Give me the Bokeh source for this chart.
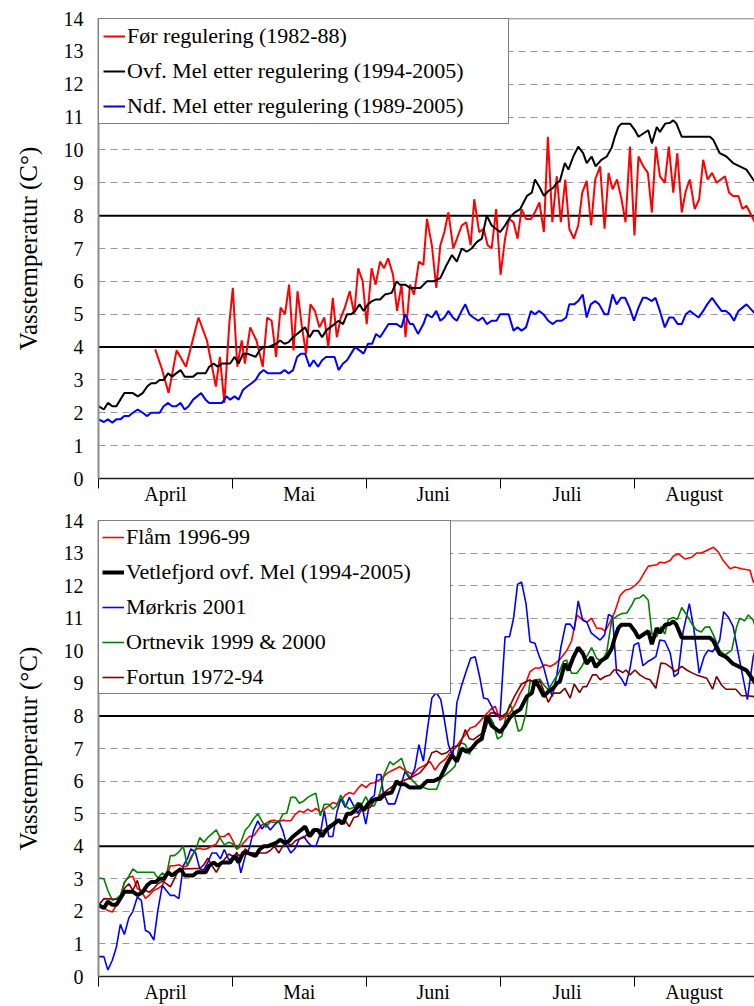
from bokeh.plotting import figure
from bokeh.models import Range1d, FixedTicker, Span, Legend, LegendItem
from bokeh.layouts import column
from bokeh.embed import file_html
from bokeh.resources import INLINE

FONT = "Liberation Serif"

# ---------- axis categories ----------
month_labels = ["April", "Mai", "Juni", "Juli", "August"]
month_starts = [0, 30, 60, 90, 120]
x_end = 147
month_centers = [15, 45, 75, 105, 133.5]
y_ticks = list(range(0, 15))

# ---------- data (day after 1 April, temperature) ----------
ovf_mel = [(0,2.2),(1.2,2.1),(2.1,2.3),(3.1,2.2),(4,2.2),(4.9,2.4),(5.8,2.6),(7.7,2.6),(8.8,2.5),(9.9,2.6),
           (10.9,2.8),(11.8,2.9),(12.8,2.9),(13.7,3.0),(14.6,3.0),(15.6,3.2),(16.5,3.1),(17.4,3.2),(18.4,3.3),
           (19.3,3.1),(21.2,3.1),(22.1,3.2),(24,3.2),(24.8,3.4),(25.8,3.5),(26.7,3.4),(27.7,3.5),(29.5,3.5),
           (30.5,3.7),(31.4,3.5),(32.4,3.8),(33.3,3.8),(34.3,3.75),(35.2,3.7),(36.1,3.9),(37,4.0),(38,4.0),
           (39.8,4.1),(40.7,4.2),(41.7,4.1),(42.6,4.15),(43.6,4.3),(44.5,4.4),(45.4,4.5),(46.3,4.6),(47.3,4.3),
           (48.2,4.5),(49.2,4.5),(50.1,4.3),(51,4.5),(51.9,4.6),(52.9,4.7),(53.8,4.8),(54.8,4.7),(55.7,5.0),
           (56.6,5.0),(57.5,5.1),(58.5,5.3),(59.4,5.1),(60.4,5.3),(61.3,5.4),(62.2,5.45),(63.1,5.45),(64.2,5.6),
           (65.7,5.65),(66.8,6.0),(67.5,5.9),(68.7,5.9),(69.8,5.8),(72.1,5.8),(73.6,6.0),(75.1,6.0),(76.6,6.1),
           (77.3,6.3),(78,6.5),(79.2,6.8),(80.3,6.6),(81.4,7.0),(82.5,6.9),(83.6,7.0),(84.8,7.2),(85.9,7.3),
           (87,8.0),(88.1,7.7),(90,7.5),(91.1,7.7),(92.2,7.95),(93.3,8.1),(94.5,8.2),(96,8.6),(97.1,8.7),
           (97.8,9.1),(98.9,8.85),(99.8,8.6),(100.8,8.75),(101.9,8.85),(102.7,9.0),(103.4,9.06),(104.5,9.6),
           (105.3,9.4),(106.4,9.8),(107.5,10.1),(108.6,9.9),(109.4,9.6),(110.5,9.8),(111.4,9.5),(112.7,9.7),
           (113.9,9.8),(115,10.07),(115.7,10.4),(116.5,10.7),(117.2,10.8),(119.1,10.8),(120.2,10.6),(121,10.4),
           (122.1,10.5),(123.2,10.6),(124,10.2),(125.1,10.7),(125.8,10.55),(127,10.8),(128.1,10.83),(128.8,10.9),
           (129.5,10.8),(130.7,10.4),(137,10.4),(137.8,10.3),(139.2,9.9),(140.7,9.8),(142.2,9.6),(143.7,9.5),
           (145.2,9.4),(146.7,9.1),(147.5,8.95)]

ndf_mel = [(0,1.8),(1.2,1.72),(2.1,1.8),(3.1,1.7),(4,1.8),(4.9,1.8),(5.8,1.9),(6.8,1.9),(7.7,2.0),(8.8,2.1),
           (9.9,2.0),(10.9,1.9),(11.8,2.0),(13.7,2.0),(14.6,2.2),(15.6,2.3),(16.5,2.2),(17.4,2.2),(18.4,2.3),
           (19.3,2.1),(20.2,2.2),(21.2,2.4),(22.1,2.5),(23,2.6),(24,2.4),(24.8,2.3),(27.7,2.3),(28.7,2.5),
           (29.5,2.4),(30.5,2.5),(31.4,2.4),(32.4,2.7),(33.3,2.8),(34.3,2.9),(35.2,3.0),(36.1,3.2),(37,3.3),
           (38,3.2),(40.7,3.2),(41.7,3.3),(42.6,3.2),(43.6,3.3),(44.5,3.7),(45.4,3.8),(46.3,3.8),(47.3,3.4),
           (48.2,3.6),(49.2,3.4),(50.1,3.6),(51,3.7),(51.9,3.7),(52.9,3.7),(53.8,3.3),(54.8,3.5),(55.7,3.6),
           (56.6,3.8),(57.5,4.0),(58.5,3.9),(59.4,3.8),(60.4,4.1),(61.3,4.1),(62.2,4.4),(63.1,4.3),(65,4.7),
           (66.8,4.7),(67.9,4.6),(68.7,5.0),(69.8,4.7),(70.5,4.7),(71.6,4.4),(72.8,4.7),(73.6,5.0),(74.7,4.9),
           (75.7,5.1),(76.6,4.8),(77.5,4.9),(78.4,5.1),(79.4,4.9),(80.3,4.8),(81.3,5.08),(82.2,5.3),(83.1,5.0),
           (84,4.9),(85.1,4.8),(86.1,4.9),(87,4.7),(88.1,4.8),(89.2,4.8),(90,5.0),(91.9,5.0),(93,4.5),(93.9,4.6),
           (94.8,4.5),(95.8,4.6),(96.9,5.1),(97.8,5.0),(98.7,5.1),(99.7,5.0),(100.8,4.8),(101.8,4.7),(102.7,4.8),
           (103.8,4.8),(104.8,4.9),(105.5,5.3),(106.6,5.3),(107.5,5.4),(108.5,5.6),(109.4,4.9),(110.3,5.3),
           (111.3,5.4),(112.2,5.3),(113.4,5.0),(114.2,5.0),(115.2,5.6),(116.1,5.3),(117.1,5.5),(118,5.5),
           (119,5.2),(120,4.8),(121,5.2),(122,5.5),(122.8,5.5),(124,5.4),(124.8,5.5),(125.8,5.1),(126.9,4.6),
           (127.9,4.9),(128.8,4.9),(129.8,4.7),(130.7,4.7),(131.6,5.0),(132.5,5.1),(133.5,5.0),(134.5,4.9),
           (135.5,5.1),(136.4,5.3),(137.5,5.5),(138.5,5.3),(139.6,5.1),(140.6,5.1),(141.5,5.0),(142.4,4.8),
           (143.4,5.1),(144.3,5.2),(145.2,5.3),(146.7,5.08),(147.5,5.0)]

for_reg = [(12.7,3.93),(14.2,3.34),(15.7,2.6),(17.5,3.9),(19.6,3.4),(22.4,4.9),(24.3,4.2),(26.3,2.8),(27.2,3.7),
           (28.2,2.3),(29.3,4.7),(30.1,5.8),(31.1,3.4),(32.1,4.2),(32.8,3.5),(34,4.6),(35.4,4.2),(36.8,3.4),
           (37.8,4.9),(38.8,4.8),(39.8,3.7),(40.8,5.2),(41.8,5.0),(42.7,5.9),(43.7,3.9),(44.6,5.7),(45.5,4.7),
           (46.5,3.8),(47.5,5.3),(48.5,5.1),(49.5,4.6),(50.6,4.9),(51.5,4.0),(52.5,5.5),(53.4,4.3),(54.3,4.9),
           (55.2,5.2),(56.3,5.7),(57.3,5.0),(58.2,6.4),(59.2,6.0),(60.1,4.7),(61.2,6.4),(62.1,5.9),(63.1,6.6),
           (64,6.4),(64.9,6.7),(66,6.2),(66.9,5.1),(67.9,5.9),(68.8,4.3),(69.8,5.9),(70.7,5.6),(71.8,6.6),
           (72.8,6.5),(73.6,7.9),(74.7,7.1),(75.7,5.8),(76.6,7.1),(77.5,7.5),(78.4,8.1),(79.5,7.0),(81.4,7.7),
           (82.4,7.8),(83.4,7.1),(84.2,8.5),(85.3,7.5),(86.3,7.6),(87.2,7.1),(88.1,7.0),(89.1,8.2),(90.1,6.2),
           (91.1,7.3),(92,7.9),(93,7.8),(93.9,7.3),(94.8,8.2),(95.8,7.9),(96.9,7.9),(97.8,8.1),(98.8,8.4),
           (99.8,7.5),(100.7,10.4),(101.7,7.8),(102.7,9.2),(103.6,7.8),(104.6,9.1),(105.5,7.6),(106.5,7.3),
           (107.5,7.7),(108.4,8.7),(109.4,9.06),(110.4,7.7),(111.3,9.1),(112.4,9.5),(113.4,7.6),(114.3,9.3),
           (115.2,8.8),(116.2,9.1),(117.2,8.5),(118.1,7.8),(119.1,10.1),(120.1,7.4),(121,9.8),(122.1,9.5),
           (123.1,9.3),(124,8.1),(124.9,10.1),(125.8,9.2),(126.9,9.0),(127.8,10.1),(128.8,8.7),(129.7,9.9),
           (130.7,8.1),(131.6,8.75),(132.5,9.1),(133.6,8.2),(134.6,8.5),(135.5,9.7),(136.5,9.1),(137.5,9.3),
           (138.5,9.0),(140.4,9.2),(141.3,8.7),(142.2,8.6),(143.4,8.6),(144.3,8.2),(145.2,8.3),(146.7,7.9),(147.5,7.7)]

flam = [(0,2.19),(1.2,2.1),(2.1,2.03),(3.1,1.98),(4,2.2),(4.9,2.4),(5.8,2.9),(6.8,3.05),(7.7,3.08),(8.7,2.7),
        (9.6,2.64),(10.5,2.4),(11.4,2.5),(12.4,2.65),(13.3,2.7),(14.3,2.8),(15.2,3.05),(16.1,3.4),(17,3.4),
        (18,3.43),(19,3.36),(19.9,3.4),(20.7,3.6),(21.7,3.9),(22.7,3.94),(23.6,3.9),(24.5,3.94),(25.4,4.0),
        (26.4,4.07),(27.3,4.3),(28.2,4.3),(29.2,4.4),(30.1,4.17),(31,3.9),(31.9,4.0),(32.9,4.17),(33.8,4.3),
        (34.8,4.32),(35.7,4.5),(36.6,4.65),(37.5,4.7),(38.5,4.78),(39.4,4.8),(40.4,4.75),(41.3,4.8),(42.2,4.78),
        (43.1,4.78),(44.1,4.98),(45,5.08),(46,5.04),(46.9,5.14),(47.8,5.06),(48.7,5.16),(49.7,5.04),(50.6,5.14),
        (51.6,5.24),(52.5,5.34),(53.4,5.3),(54.3,5.4),(55.3,5.57),(56.2,5.65),(57.2,5.6),(58.1,5.77),(59,5.9),
        (59.9,5.8),(60.9,5.93),(61.8,5.95),(63.1,6.05),(64.9,6.26),(66,6.34),(67.5,6.44),(69,6.3),(70.5,6.2),
        (71.6,6.38),(72.8,6.46),(74.3,6.6),(75.4,6.34),(76.6,6.56),(77.7,6.67),(78.8,6.87),(79.9,7.0),(81,7.22),
        (82.2,7.43),(83.3,7.63),(84.4,7.68),(85.5,7.84),(86.6,8.01),(87.8,8.19),(88.9,8.3),(90,7.87),(91.1,7.99),
        (92.2,8.09),(93.3,8.34),(94.5,8.7),(95.6,8.96),(96.7,9.36),(97.8,9.47),(98.9,9.47),(100.1,9.57),
        (101.2,9.52),(102.3,9.6),(103.4,9.74),(104.9,10.0),(106,10.3),(107.2,11.1),(108.3,10.97),(109.4,10.87),
        (110.5,11.0),(111.6,10.7),(112.8,10.68),(113.5,10.6),(114.6,10.87),(115.7,11.2),(116.9,11.7),(118,11.86),
        (119.1,11.9),(120.2,12.0),(121.3,12.16),(122.3,12.4),(123.2,12.6),(125.1,12.64),(125.8,12.72),(126.9,12.7),
        (128.1,12.77),(128.8,12.9),(129.9,12.98),(131.4,12.82),(132.9,12.87),(134,13.0),(135.1,13.0),(136.3,13.08),
        (137.8,13.18),(138.9,13.03),(140,12.77),(141.5,12.52),(142.6,12.57),(144.1,12.52),(146,12.47),(146.7,12.13),
        (147.5,12.0)]

morkris = [(0,0.61),(1.2,0.61),(2.1,0.2),(3.1,0.5),(4,0.9),(4.9,1.6),(5.8,1.29),(6.8,1.8),(7.7,2.0),(8.7,2.44),
           (9.6,2.34),(10.5,1.42),(11.4,1.35),(12.4,1.12),(13.3,2.03),(14.3,2.8),(15.2,2.64),(16.1,2.49),(17,2.49),
           (18,2.39),(19,3.4),(19.9,3.61),(20.7,3.92),(21.7,3.82),(22.7,3.3),(23.6,3.28),(24.5,3.5),(25.4,3.79),
           (26.4,3.79),(27.3,3.61),(28.2,3.9),(29.2,3.59),(30.1,3.59),(31,3.82),(31.9,3.18),(32.9,3.71),(33.8,3.94),
           (34.8,4.5),(35.7,4.78),(36.6,4.53),(37.5,4.68),(38.5,4.5),(39.4,4.65),(40.4,4.78),(41.3,4.48),(42.2,4.02),
           (43.1,3.79),(44.1,3.94),(45,4.22),(46,4.3),(46.9,4.12),(47.8,4.0),(48.7,4.0),(49.7,4.38),(50.6,5.09),
           (51.6,4.3),(52.5,4.3),(53.4,5.04),(54.3,5.46),(55.3,5.19),(56.2,5.5),(57.2,5.24),(58.1,5.01),(59,5.24),
           (59.9,4.68),(60.9,5.45),(61.8,5.55),(62.4,6.2),(63.3,6.2),(63.8,5.65),(64.9,5.3),(66.4,5.3),(67.5,5.75),
           (68.7,6.3),(69.8,6.05),(70.9,6.4),(71.8,7.12),(72.8,6.61),(73.6,7.48),(74.7,8.55),(75.7,8.72),(76.7,8.5),
           (77.5,7.89),(78.4,7.12),(79.4,6.77),(80.3,8.4),(81.4,8.95),(82.5,9.41),(83.4,9.77),(84.4,9.82),(85.4,9.21),
           (86.3,8.55),(87.2,8.52),(88.1,8.29),(89.1,7.99),(90,8.04),(91.1,10.43),(92.1,10.43),(93,10.99),(93.9,12.04),
           (94.8,12.11),(95.8,11.45),(96.7,10.28),(97.8,10.23),(98.8,9.82),(99.7,9.52),(100.8,8.95),(101.7,8.6),
           (102.7,9.26),(103.6,10.1),(104.7,10.82),(105.7,10.82),(106.6,10.63),(107.5,11.53),(108.5,10.94),
           (109.4,10.89),(110.4,10.55),(111.5,10.43),(112.4,10.33),(113.4,10.48),(114.3,11.12),(115.2,11.04),
           (116.1,9.33),(117.1,9.16),(118.1,8.92),(119.1,9.46),(120,10.18),(121,10.25),(122,9.54),(123.1,9.67),
           (124,9.74),(124.9,9.82),(125.8,10.33),(126.9,10.3),(128.1,9.94),(129,9.21),(129.9,9.31),(131,10.58),
           (132.4,11.45),(133.4,10.68),(134.6,9.31),(135.7,9.82),(136.6,10.02),(137.6,9.97),(138.5,10.15),
           (139.2,10.33),(140.1,11.2),(141.1,11.04),(142.2,10.75),(143.1,10.1),(144.3,9.26),(145.4,8.5),(146.7,9.8),
           (147.5,10.2)]

ortnevik = [(0,3.02),(1.2,3.0),(2.1,2.64),(3.1,2.34),(4,2.39),(4.9,2.49),(5.8,2.88),(6.8,3.08),(7.7,3.3),(8.7,3.2),
            (12.4,3.2),(13.3,3.02),(14.3,3.18),(15.2,3.08),(16.1,3.71),(17,3.71),(18,3.82),(19,4.0),(19.9,3.4),
            (20.7,3.66),(21.7,3.87),(22.7,4.27),(23.6,4.12),(24.5,4.27),(25.4,4.38),(26.4,4.5),(27.3,4.24),(28.2,4.04),
            (29.2,4.12),(30.1,4.07),(31,3.92),(31.9,4.12),(32.9,4.5),(33.8,4.63),(34.8,4.85),(35.7,4.99),(36.6,4.78),
            (37.5,4.58),(38.5,4.75),(39.4,4.73),(40.4,4.73),(41.3,4.99),(42.2,5.01),(43.1,5.5),(44.1,5.5),(45,5.32),
            (46,5.39),(46.9,5.5),(47.8,5.57),(48.7,5.63),(49.7,4.93),(50.6,5.29),(51.6,5.29),(52.5,5.14),(53.4,5.24),
            (54.3,5.57),(55.3,5.26),(56.2,5.14),(57.2,5.19),(58.1,5.34),(59,5.29),(59.9,5.52),(60.9,5.24),(61.8,5.24),
            (63.1,5.65),(64,6.2),(65.3,6.6),(66,6.5),(67.9,6.7),(69,6.26),(70.5,6.0),(71.6,5.85),(72.8,5.8),
            (73.9,5.75),(75.8,5.75),(76.7,6.1),(77.7,6.18),(78.8,6.31),(79.9,6.46),(81,7.19),(82.2,7.12),(83.1,6.82),
            (84,7.07),(85.1,7.27),(86.3,7.43),(87.4,8.04),(88.5,7.78),(89.4,7.29),(90.4,7.38),(91.3,7.99),(92.2,8.37),
            (93.1,8.07),(94.1,7.53),(94.8,7.58),(95.8,8.09),(96.7,9.06),(97.8,9.09),(98.9,9.13),(99.8,8.95),
            (100.8,8.8),(101.9,9.06),(103.1,9.31),(104.2,9.67),(104.9,9.72),(106,9.31),(107.2,9.31),(108.3,9.52),
            (109.4,9.82),(110.5,10.1),(111.6,9.77),(112.8,9.67),(113.9,9.97),(115,10.94),(116.1,11.06),(117.2,11.14),
            (118.4,11.16),(119.5,11.4),(120.2,11.6),(121.3,11.63),(122.1,11.72),(123.2,11.55),(124,10.53),
            (125.1,10.43),(126,10.74),(126.9,10.51),(127.7,10.96),(128.8,11.02),(129.7,10.96),(130.7,11.33),
            (131.8,11.1),(132.9,10.84),(134,10.64),(135.1,10.58),(135.9,10.72),(136.9,10.74),(137.8,10.48),
            (139.2,10.02),(140.4,9.87),(141.9,10.02),(143,10.74),(143.7,11.0),(144.8,10.92),(145.6,11.1),
            (146.7,10.94),(147.5,10.6)]

fortun = [(0,2.19),(1.2,2.39),(4,2.37),(4.9,2.39),(5.8,2.7),(6.8,2.85),(7.7,2.64),(8.7,2.95),(9.6,2.51),
          (10.5,2.64),(11.4,2.59),(12.4,2.71),(13.3,2.85),(14.3,2.92),(15.2,2.85),(16.1,2.75),(17,3.0),(18,3.28),
          (19,3.3),(22.7,3.32),(23.6,3.43),(24.5,3.63),(25.4,3.41),(26.4,3.2),(27.3,3.41),(28.2,3.59),(29.2,3.76),
          (30.1,3.69),(31,3.76),(31.9,3.71),(32.9,3.92),(33.8,3.79),(37.5,3.79),(38.5,3.87),(39.4,4.0),(40.4,3.79),
          (41.3,4.0),(42.2,4.12),(43.1,4.02),(44.1,4.17),(45,4.22),(46,4.27),(46.9,4.38),(47.8,4.32),(48.7,4.48),
          (50.6,4.48),(51.6,4.63),(52.5,4.7),(53.4,4.8),(54.3,4.68),(55.3,4.78),(56.2,4.6),(57.2,4.88),(58.1,4.91),
          (59,5.14),(59.9,5.14),(60.9,5.19),(61.8,5.39),(63.1,5.55),(64.5,5.7),(66,5.85),(68,6.0),(70,6.1),
          (72.1,6.26),(73.6,6.51),(74.7,6.87),(75.8,6.92),(76.9,6.82),(78,6.87),(79.5,7.05),(81,7.1),(82.2,7.58),
          (83.1,7.3),(84,7.27),(85.3,7.4),(86.6,7.53),(87.8,8.09),(88.9,8.1),(90,7.95),(91.5,8.1),(93.2,8.6),
          (94.8,8.98),(96.7,9.11),(97.8,8.98),(98.9,9.08),(100.8,8.42),(101.9,8.7),(103.4,8.7),(104.5,8.85),
          (105.7,8.55),(106.6,8.98),(107.8,8.72),(108.6,8.9),(109.4,8.9),(110.7,9.26),(111.6,9.26),(112.4,9.11),
          (113.5,9.21),(114.6,9.26),(115.5,9.41),(116.5,9.41),(117.5,9.33),(118.2,9.41),(119.1,9.26),(120.2,9.41),
          (121.3,9.26),(122.5,9.16),(123.6,9.11),(124.9,8.85),(126,9.62),(127.1,9.6),(128.2,9.5),(129.2,9.36),
          (130.7,9.52),(131.8,9.41),(132.9,9.33),(134,9.26),(135.1,9.21),(136.3,9.16),(137.6,8.82),(138.5,9.21),
          (139.6,8.95),(140.6,8.82),(142.8,8.82),(144.1,8.62),(145.2,8.62),(146.7,8.6),(147.5,8.5)]


def xs(series):
    return [d for d, _ in series]


def ys(series):
    return [v for _, v in series]


def make_fig(ylabel, frame_h, top_border, bottom_border):
    p = figure(frame_width=656, frame_height=frame_h,
               x_range=Range1d(0, x_end), y_range=Range1d(0, 14),
               output_backend="svg", toolbar_location=None,
               min_border_left=98, min_border_right=0,
               min_border_top=top_border, min_border_bottom=bottom_border)
    p.outline_line_color = None
    p.background_fill_color = "white"
    p.border_fill_color = "white"

    # y axis
    p.yaxis.ticker = FixedTicker(ticks=y_ticks)
    p.yaxis.axis_line_color = "#8c8c8c"
    p.yaxis.axis_line_width = 2
    p.yaxis.major_tick_out = 0
    p.yaxis.major_tick_in = 0
    p.yaxis.minor_tick_line_color = None
    p.yaxis.major_label_standoff = 15
    p.yaxis.major_label_text_font = FONT
    p.yaxis.major_label_text_font_size = "20px"
    p.yaxis.major_label_text_color = "black"
    p.yaxis.axis_label = ylabel
    p.yaxis.axis_label_text_font = FONT
    p.yaxis.axis_label_text_font_size = "25px"
    p.yaxis.axis_label_text_font_style = "normal"
    p.yaxis.axis_label_text_color = "black"
    p.yaxis.axis_label_standoff = 19

    # x axis: month boundaries as ticks, month names centred between
    p.xaxis.ticker = FixedTicker(ticks=month_centers, minor_ticks=month_starts)
    p.xaxis.major_label_overrides = {c: m for c, m in zip(month_centers, month_labels)}
    p.xaxis.major_tick_line_color = None
    p.xaxis.major_tick_out = 0
    p.xaxis.major_tick_in = 0
    p.xaxis.minor_tick_line_color = "black"
    p.xaxis.minor_tick_out = 10
    p.xaxis.minor_tick_in = 0
    p.xaxis.axis_line_color = "#202020"
    p.xaxis.axis_line_width = 1.5
    p.xaxis.major_label_standoff = -6
    p.xaxis.major_label_text_font = FONT
    p.xaxis.major_label_text_font_size = "20px"
    p.xaxis.major_label_text_color = "black"

    # grid
    p.xgrid.grid_line_color = None
    p.ygrid.ticker = FixedTicker(ticks=[t for t in y_ticks if t not in (0, 4, 8, 14)])
    p.ygrid.grid_line_color = "#9a9a9a"
    p.ygrid.grid_line_dash = "7 5"
    p.ygrid.grid_line_width = 1.2
    for lvl in (4, 8):
        p.add_layout(Span(location=lvl, dimension="width", line_color="black",
                          line_width=2, level="underlay"))
    p.add_layout(Span(location=14, dimension="width", line_color="#5a5a5a",
                      line_width=1.5, level="underlay"))
    return p


def style_legend(leg, label_w, pad, spacing):
    leg.location = "top_left"
    leg.margin = 0
    leg.padding = pad
    leg.spacing = spacing
    leg.glyph_width = 22
    leg.glyph_height = 24
    leg.label_height = 24
    leg.label_width = label_w
    leg.label_standoff = 2
    leg.label_text_font = FONT
    leg.label_text_font_size = "22px"
    leg.label_text_color = "black"
    leg.border_line_color = "black"
    leg.border_line_width = 1
    leg.background_fill_color = "white"
    leg.background_fill_alpha = 1


# ---------- top panel ----------
p1 = make_fig("Vasstemperatur (C°)", 460, 18, 30)
r_for = p1.line(xs(for_reg), ys(for_reg), line_color="#ff0000", line_width=2)
r_ovf = p1.line(xs(ovf_mel), ys(ovf_mel), line_color="black", line_width=2)
r_ndf = p1.line(xs(ndf_mel), ys(ndf_mel), line_color="#0000ff", line_width=2)
leg1 = Legend(items=[LegendItem(label="Før regulering (1982-88)", renderers=[r_for]),
                     LegendItem(label="Ovf. Mel etter regulering (1994-2005)", renderers=[r_ovf]),
                     LegendItem(label="Ndf. Mel etter regulering (1989-2005)", renderers=[r_ndf])])
style_legend(leg1, 377, 4, 9)
p1.add_layout(leg1, "center")

# ---------- bottom panel ----------
p2 = make_fig("Vasstemperatur (°C)", 456, 12, 30)
r_flam = p2.line(xs(flam), ys(flam), line_color="#ff0000", line_width=1.6)
r_mork = p2.line(xs(morkris), ys(morkris), line_color="#0000ff", line_width=1.6)
r_ort = p2.line(xs(ortnevik), ys(ortnevik), line_color="#008000", line_width=1.6)
r_fort = p2.line(xs(fortun), ys(fortun), line_color="#800000", line_width=1.6)
r_vet = p2.line(xs(ovf_mel), ys(ovf_mel), line_color="black", line_width=4)
leg2 = Legend(items=[LegendItem(label="Flåm 1996-99", renderers=[r_flam]),
                     LegendItem(label="Vetlefjord ovf. Mel (1994-2005)", renderers=[r_vet]),
                     LegendItem(label="Mørkris 2001", renderers=[r_mork]),
                     LegendItem(label="Ortnevik 1999 & 2000", renderers=[r_ort]),
                     LegendItem(label="Fortun 1972-94", renderers=[r_fort])])
style_legend(leg2, 321, 3, 9)
p2.add_layout(leg2, "center")

layout = column(p1, p2, spacing=0)
open("out.html", "w").write(file_html(layout, INLINE))
